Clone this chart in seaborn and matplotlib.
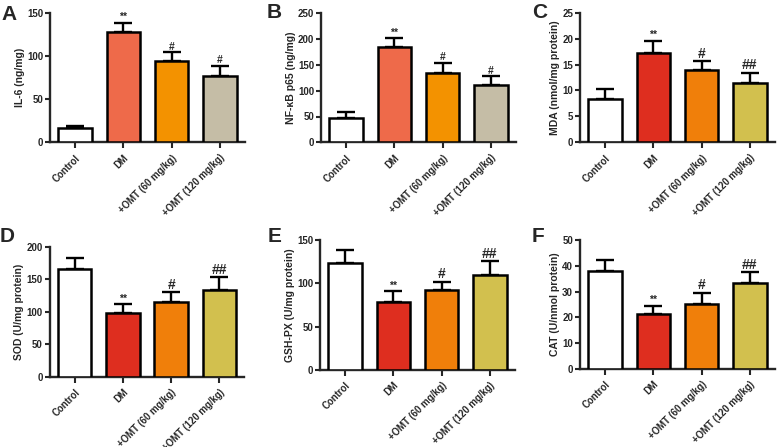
import numpy as np
import pandas as pd
import matplotlib
matplotlib.use('Agg')
import matplotlib.pyplot as plt
import seaborn as sns

sns.set_style('ticks')
plt.rcParams['font.family'] = ['Liberation Sans', 'DejaVu Sans']
plt.rcParams['font.weight'] = 'bold'
plt.rcParams['axes.labelweight'] = 'bold'

# 데이터
groups = ['Control', 'DM', '+OMT (60 mg/kg)', '+OMT (120 mg/kg)']

il6_mean = [17, 128, 94, 77]
il6_sd = [2.5, 11, 10.5, 11.5]
nfkb_mean = [48, 185, 135, 112]
nfkb_sd = [10.5, 17, 19.5, 16]
mda_mean = [8.4, 17.3, 13.9, 11.4]
mda_sd = [1.8, 2.3, 1.7, 2.0]
sod_mean = [166, 98, 115, 134]
sod_sd = [17, 14, 15, 19]
gsh_mean = [124, 78.5, 92.4, 109.8]
gsh_sd = [14.5, 12.5, 9.5, 15.8]
cat_mean = [38.1, 21.4, 25.2, 33.2]
cat_sd = [4.2, 3.1, 4.4, 4.3]

marks_ab = ['', '**', '#', '#']
marks_cf = ['', '**', '#', '##']

colors_ab = ['#FFFFFF', '#EE6A4A', '#F39200', '#C5BDA6']
colors_cf = ['#FFFFFF', '#DE2E1F', '#F07F0A', '#D2C04E']

# (글자, y라벨, 평균, 오차, 표시, 색, ymax, 간격, 축 위치(px), 글자 위치(px))
panels = [
    ('A', 'IL-6 (ng/mg)', il6_mean, il6_sd, marks_ab, colors_ab, 150, 50, (50, 13.3, 142.3), (1, 5)),
    ('B', 'NF-κB p65 (ng/mg)', nfkb_mean, nfkb_sd, marks_ab, colors_ab, 250, 50, (321, 13.3, 142.3), (267, 3)),
    ('C', 'MDA (nmol/mg protein)', mda_mean, mda_sd, marks_cf, colors_cf, 25, 5, (580, 12.7, 142.3), (532, 3)),
    ('D', 'SOD (U/mg protein)', sod_mean, sod_sd, marks_cf, colors_cf, 200, 50, (49.5, 247, 376.7), (0, 227)),
    ('E', 'GSH-PX (U/mg protein)', gsh_mean, gsh_sd, marks_cf, colors_cf, 150, 50, (320, 240.3, 369.7), (268, 227)),
    ('F', 'CAT (U/nmol protein)', cat_mean, cat_sd, marks_cf, colors_cf, 50, 10, (580, 240.3, 368.7), (532, 227)),
]

W, H = 778, 447
fig = plt.figure(figsize=(W / 100, H / 100), dpi=100)

for letter, ylabel, mean, sd, marks, colors, ymax, ystep, (lx, ty, by), (tx, tyy) in panels:
    ax_w = 195
    ax = fig.add_axes([lx / W, (H - by) / H, ax_w / W, (by - ty) / H])
    df = pd.DataFrame({'group': groups, 'value': mean})
    sns.barplot(data=df, x='group', y='value', hue='group', palette=colors,
                legend=False, errorbar=None, width=0.69, saturation=1, ax=ax,
                edgecolor='black', linewidth=1.8, zorder=3)
    ax.errorbar(range(len(groups)), mean, yerr=[np.zeros(len(sd)), sd],
                fmt='none', ecolor='black', elinewidth=1.7, capsize=6.5,
                capthick=1.7, zorder=2)
    big = letter not in ('A', 'B')
    for i, m in enumerate(marks):
        if m:
            fs = 7.5 if m == '**' else (10 if big else 7.5)
            ax.annotate(m, (i, mean[i] + sd[i]), xytext=(0, 0.5),
                        textcoords='offset points', ha='center', va='bottom',
                        fontsize=fs, fontweight='bold')
    ax.set_xlim(-0.52, 3.52)
    ax.set_ylim(0, ymax)
    ax.set_yticks(np.arange(0, ymax + 1e-9, ystep))
    ax.set_xlabel('')
    ax.set_ylabel(ylabel, fontsize=7.5, labelpad=1.5)
    sns.despine(ax=ax)
    for s in ['left', 'bottom']:
        ax.spines[s].set_linewidth(1.7)
    ax.tick_params(axis='y', width=1.5, length=3.5, labelsize=7, pad=1.5)
    ax.tick_params(axis='x', width=1.5, length=4, labelsize=7, pad=3.5)
    ax.set_xticks(range(len(groups)))
    ax.set_xticklabels(groups, rotation=45, ha='right', rotation_mode='anchor',
                       fontsize=6.9, fontweight='bold')
    for t in ax.get_yticklabels():
        t.set_fontweight('bold')
    fig.text(tx / W, 1 - tyy / H, letter, fontsize=15,
             fontweight='bold', va='top', ha='left')

fig.savefig('out.png', dpi=100)
